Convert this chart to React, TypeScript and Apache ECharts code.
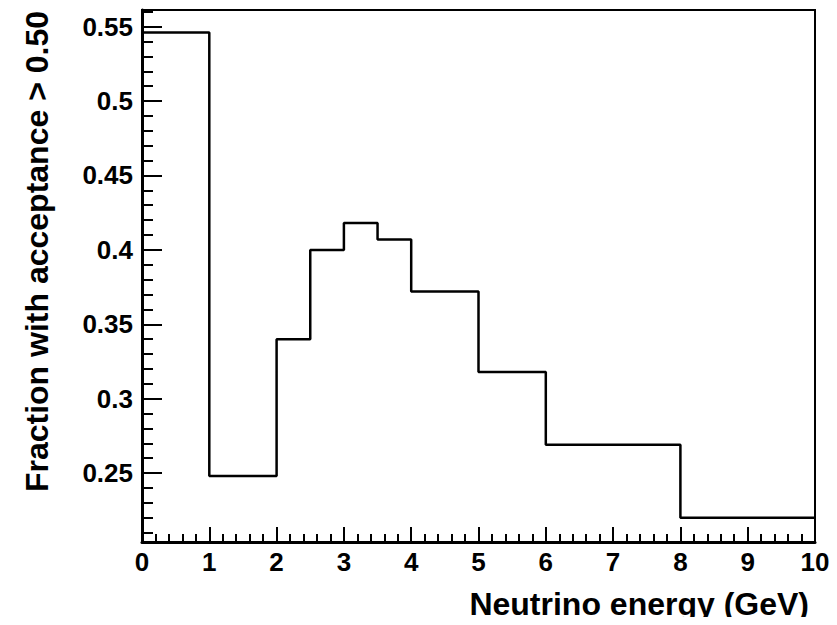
import React, { useEffect, useRef } from "react";
import * as echarts from "echarts";

const binEdges = [0, 1, 2, 2.5, 3, 3.5, 4, 5, 6, 8, 10];
const fractions = [0.546, 0.248, 0.34, 0.4, 0.418, 0.407, 0.372, 0.318, 0.269, 0.22];
const yMajorTicks = [0.25, 0.3, 0.35, 0.4, 0.45, 0.5, 0.55];
const yMinorTicks = [0.21, 0.22, 0.23, 0.24, 0.26, 0.27, 0.28, 0.29, 0.31, 0.32, 0.33, 0.34, 0.36, 0.37, 0.38, 0.39, 0.41, 0.42, 0.43, 0.44, 0.46, 0.47, 0.48, 0.49, 0.51, 0.52, 0.53, 0.54, 0.56];
const yMin = 0.2037;
const yMax = 0.5612;
const xTitle = "Neutrino energy (GeV)";
const yTitle = "Fraction with acceptance > 0.50";

const FONT = "'Liberation Sans', Arial, Helvetica, sans-serif";

export default function App() {
  const ref = useRef<HTMLDivElement>(null);
  useEffect(() => {
    if (!ref.current) return;
    const chart = echarts.init(ref.current, null, { renderer: "svg" });
    const data: [number, number][] = binEdges.map((e, i) => [
      e,
      fractions[Math.min(i, fractions.length - 1)],
    ]);
    const labelStyle = {
      color: "#000",
      fontFamily: FONT,
      fontWeight: "bold" as const,
      fontSize: 26,
    };
    chart.setOption({
      animation: false,
      backgroundColor: "#fff",
      grid: {
        left: 142,
        right: 22,
        top: 10,
        bottom: 83,
        show: true,
        borderColor: "#000",
        borderWidth: 2,
        backgroundColor: "transparent",
      },
      xAxis: {
        type: "value",
        min: 0,
        max: 10,
        interval: 1,
        axisLine: { show: true, onZero: false, lineStyle: { color: "#000", width: 3 } },
        axisTick: { show: true, inside: true, length: 15, lineStyle: { color: "#000", width: 2 } },
        minorTick: { show: true, splitNumber: 5, length: 8, lineStyle: { color: "#000", width: 2 } },
        splitLine: { show: false },
        axisLabel: { ...labelStyle, margin: 7 },
      },
      yAxis: [
        {
          type: "value",
          min: yMin,
          max: yMax,
          axisLine: { show: true, onZero: false, lineStyle: { color: "#000", width: 3 } },
          axisTick: {
            show: true,
            inside: true,
            length: 20,
            customValues: yMajorTicks,
            lineStyle: { color: "#000", width: 2 },
          },
          splitLine: { show: false },
          axisLabel: {
            ...labelStyle,
            margin: 9,
            customValues: yMajorTicks,
            formatter: (v: number) => String(Number(v.toFixed(2))),
          },
        },
        {
          type: "value",
          min: yMin,
          max: yMax,
          position: "left",
          axisLine: { show: false },
          axisTick: {
            show: true,
            inside: true,
            length: 11,
            customValues: yMinorTicks,
            lineStyle: { color: "#000", width: 2 },
          },
          splitLine: { show: false },
          axisLabel: { show: false },
        },
      ],
      series: [
        {
          type: "line",
          step: "end",
          data,
          symbol: "none",
          lineStyle: { color: "#000", width: 2.5 },
          yAxisIndex: 0,
        },
      ],
      graphic: [
        {
          type: "text",
          x: 809,
          y: 620,
          style: {
            text: xTitle,
            fill: "#000",
            font: `bold 32px ${FONT}`,
            textAlign: "right",
            textVerticalAlign: "bottom",
          },
        },
        {
          type: "text",
          x: 37,
          y: 11,
          rotation: Math.PI / 2,
          style: {
            text: yTitle,
            fill: "#000",
            font: `bold 32px ${FONT}`,
            textAlign: "right",
            textVerticalAlign: "middle",
          },
        },
      ],
    });
    return () => chart.dispose();
  }, []);
  return <div ref={ref} style={{ width: 837, height: 625, margin: -8 }} />;
}
